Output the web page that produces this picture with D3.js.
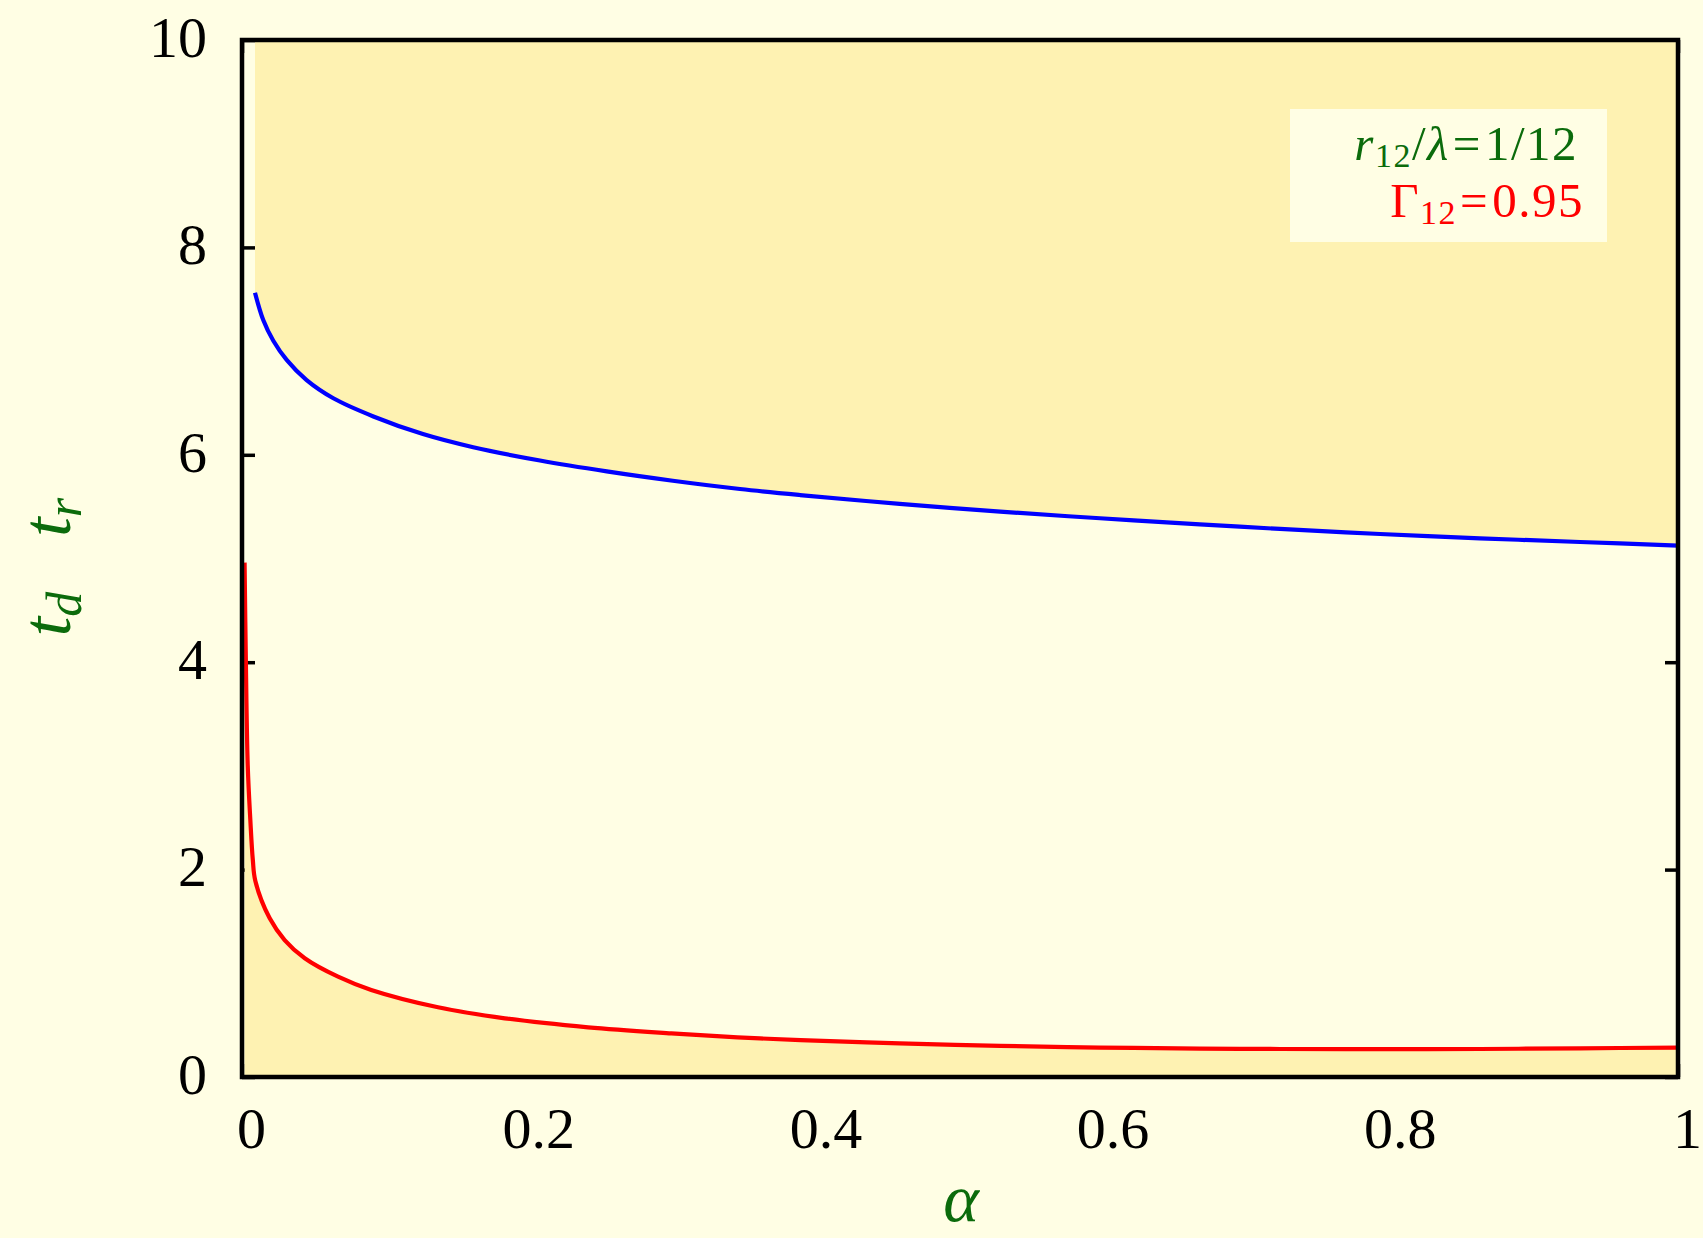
<!DOCTYPE html>
<html>
<head>
<meta charset="utf-8">
<script src="https://cdn.jsdelivr.net/npm/d3@7"></script>
<style>
  html, body { margin: 0; padding: 0; background: #fffee4; }
  svg { display: block; }
  text { font-family: "Liberation Serif", "DejaVu Serif", serif; }
</style>
</head>
<body>
<script>
// ---- data ----
const blueAlpha = [0.00905, 0.0148, 0.0218, 0.0311, 0.045, 0.0636, 0.0915, 0.126, 0.161, 0.2075, 0.254, 0.300, 0.3468, 0.3886, 0.458, 0.528, 0.5975, 0.667, 0.7228, 0.7925, 0.862, 0.9318, 1.0];
const blueT     = [7.563, 7.30, 7.10, 6.915, 6.72, 6.545, 6.37, 6.20, 6.073, 5.945, 5.84, 5.75, 5.67, 5.612, 5.527, 5.452, 5.388, 5.33, 5.285, 5.236, 5.195, 5.159, 5.125];
const redAlpha  = [0.0018, 0.0027, 0.004, 0.0058, 0.0075, 0.0093, 0.0193, 0.0297, 0.0437, 0.0669, 0.09, 0.1365, 0.183, 0.241, 0.299, 0.345, 0.389, 0.458, 0.528, 0.5975, 0.667, 0.7228, 0.7925, 0.862, 0.9318, 1.0];
const redT      = [4.96, 4.0, 3.0, 2.48, 2.1, 1.89, 1.53, 1.321, 1.145, 0.967, 0.839, 0.672, 0.566, 0.479, 0.421, 0.383, 0.355, 0.325, 0.300, 0.284, 0.274, 0.270, 0.268, 0.270, 0.277, 0.283];
const xTicks = [0, 0.2, 0.4, 0.6, 0.8, 1];
const xTickLabels = ["0", "0.2", "0.4", "0.6", "0.8", "1"];
const yTicks = [0, 2, 4, 6, 8, 10];
const yTickLabels = ["0", "2", "4", "6", "8", "10"];

const W = 1703, H = 1238;
const BG = "#fffee4", FILL = "#fef2b2", GREEN = "#0b6b0b";
const m = {left: 242, right: 1678, top: 40, bottom: 1077};

const svg = d3.select("body").append("svg").attr("width", W).attr("height", H);
svg.append("rect").attr("width", W).attr("height", H).attr("fill", BG);

const x = d3.scaleLinear().domain([0, 1]).range([m.left, m.right]);
const y = d3.scaleLinear().domain([0, 10]).range([m.bottom, m.top]);

// axes (ticks inward, later partly covered by fills as in the original)
const gL = svg.append("g").attr("transform", `translate(${m.left},0)`)
  .call(d3.axisLeft(y).tickValues(yTicks).tickFormat((d, i) => yTickLabels[i])
    .tickSizeInner(-13).tickSizeOuter(0).tickPadding(35));
gL.selectAll("text").attr("dy", "0.28em").attr("font-size", 58)
  .attr("font-family", "Liberation Serif").attr("fill", "#000");
const gR = svg.append("g").attr("transform", `translate(${m.right},0)`)
  .call(d3.axisRight(y).tickValues(yTicks).tickFormat("").tickSizeInner(-13).tickSizeOuter(0));
const gB = svg.append("g").attr("transform", `translate(0,${m.bottom})`)
  .call(d3.axisBottom(x).tickValues(xTicks).tickFormat((d, i) => xTickLabels[i])
    .tickSizeInner(-13).tickSizeOuter(0).tickPadding(30));
gB.selectAll("text").attr("dx", 9).attr("dy", "0.71em").attr("font-size", 58)
  .attr("font-family", "Liberation Serif").attr("fill", "#000");
const gT = svg.append("g").attr("transform", `translate(0,${m.top})`)
  .call(d3.axisTop(x).tickValues(xTicks).tickFormat("").tickSizeInner(-13).tickSizeOuter(0));
[gL, gR, gB, gT].forEach(g => {
  g.select(".domain").remove();
  g.selectAll(".tick line").attr("stroke", "#000").attr("stroke-width", 3.5);
});

const blue = blueAlpha.map((a, i) => [a, blueT[i]]);
const red = redAlpha.map((a, i) => [a, redT[i]]);
const curve = d3.curveCatmullRom.alpha(0.5);

// fills
svg.append("path").datum(blue)
  .attr("d", d3.area().x(d => x(d[0])).y0(y(10)).y1(d => y(d[1])).curve(curve))
  .attr("fill", FILL);
svg.append("path").datum(red)
  .attr("d", d3.area().x(d => x(d[0])).y0(y(0)).y1(d => y(d[1])).curve(curve))
  .attr("fill", FILL);

// curves
const line = d3.line().x(d => x(d[0])).y(d => y(d[1])).curve(curve);
svg.append("path").datum(blue).attr("d", line).attr("fill", "none")
  .attr("stroke", "#0000ff").attr("stroke-width", 4.2);
svg.append("path").datum(red).attr("d", line).attr("fill", "none")
  .attr("stroke", "#ff0000").attr("stroke-width", 4.2);

// frame
svg.append("rect").attr("x", m.left).attr("y", m.top)
  .attr("width", m.right - m.left).attr("height", m.bottom - m.top)
  .attr("fill", "none").attr("stroke", "#000").attr("stroke-width", 4.5);

// legend box
svg.append("rect").attr("x", 1290).attr("y", 109).attr("width", 317).attr("height", 133).attr("fill", BG);
const l1 = svg.append("text").attr("x", 1578).attr("y", 160).attr("text-anchor", "end")
  .attr("font-size", 49).attr("letter-spacing", 1.5).attr("fill", GREEN);
l1.append("tspan").attr("font-style", "italic").text("r");
l1.append("tspan").attr("font-size", 34).attr("dy", 7).text("12");
l1.append("tspan").attr("dy", -7).text("/");
l1.append("tspan").attr("font-style", "italic").text("λ");
l1.append("tspan").attr("dx", 3).text("=");
l1.append("tspan").attr("dx", 3).text("1/12");
const l2 = svg.append("text").attr("x", 1584).attr("y", 217).attr("text-anchor", "end")
  .attr("font-size", 49).attr("letter-spacing", 1.5).attr("fill", "#ff0000");
l2.append("tspan").text("Γ");
l2.append("tspan").attr("font-size", 34).attr("dy", 7).text("12");
l2.append("tspan").attr("dy", -7).attr("dx", 3).text("=");
l2.append("tspan").attr("dx", 3).text("0.95");

// axis labels
svg.append("text").attr("x", 961).attr("y", 1221).attr("text-anchor", "middle")
  .attr("font-size", 68).attr("font-style", "italic").attr("fill", GREEN).text("α");
const yl = svg.append("text").attr("transform", "translate(70,567) rotate(-90)")
  .attr("text-anchor", "middle").attr("font-size", 70).attr("font-style", "italic").attr("fill", GREEN);
yl.append("tspan").text("t");
yl.append("tspan").attr("font-size", 50).attr("dy", 11).text("d");
yl.append("tspan").attr("dy", -11).attr("dx", 55).text("t");
yl.append("tspan").attr("font-size", 50).attr("dy", 11).text("r");
</script>
</body>
</html>
